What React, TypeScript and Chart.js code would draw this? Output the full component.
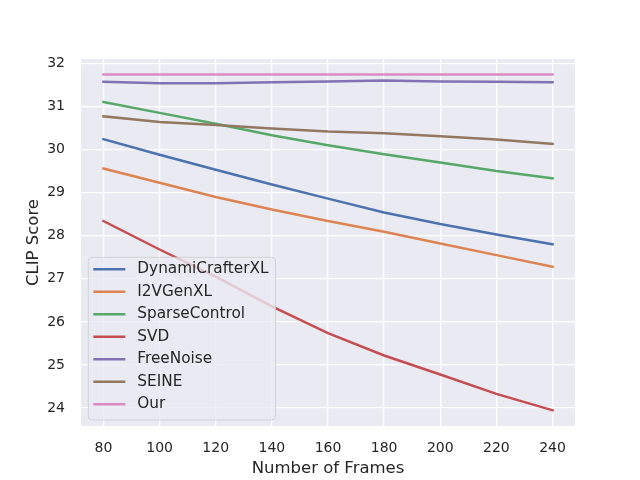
import { useEffect, useRef } from "react"
import { Chart, registerables } from "chart.js"

Chart.register(...registerables)

const frames = [80, 100, 120, 140, 160, 180, 200, 220, 240]

const dynamiCrafter = [30.24, 29.88, 29.53, 29.19, 28.86, 28.54, 28.27, 28.03, 27.8]
const i2vGen = [29.56, 29.23, 28.9, 28.61, 28.34, 28.09, 27.82, 27.55, 27.28]
const sparseControl = [31.1, 30.85, 30.6, 30.33, 30.1, 29.89, 29.7, 29.5, 29.33]
const svd = [28.34, 27.68, 27.05, 26.36, 25.74, 25.22, 24.78, 24.33, 23.95]
const freeNoise = [31.57, 31.54, 31.54, 31.56, 31.58, 31.6, 31.58, 31.57, 31.56]
const seine = [30.77, 30.64, 30.57, 30.49, 30.42, 30.38, 30.31, 30.23, 30.13]
const ours = [31.74, 31.74, 31.74, 31.74, 31.74, 31.74, 31.74, 31.74, 31.74]

const xTicks = [80, 100, 120, 140, 160, 180, 200, 220, 240]
const yTicks = [24, 25, 26, 27, 28, 29, 30, 31, 32]

const series = [
  { label: "DynamiCrafterXL", values: dynamiCrafter, color: "#4C72B0" },
  { label: "I2VGenXL", values: i2vGen, color: "#DD8452" },
  { label: "SparseControl", values: sparseControl, color: "#55A868" },
  { label: "SVD", values: svd, color: "#C44E52" },
  { label: "FreeNoise", values: freeNoise, color: "#8172B3" },
  { label: "SEINE", values: seine, color: "#937860" },
  { label: "Our", values: ours, color: "#DA8BC3" },
]

const FONT = "'DejaVu Sans', sans-serif"
const TEXT = "#262626"

// fond gris du style seaborn
const bgPlugin = {
  id: "plotBg",
  beforeDraw(chart: Chart) {
    const { ctx, chartArea } = chart
    ctx.save()
    ctx.fillStyle = "#EAEAF2"
    ctx.fillRect(chartArea.left, chartArea.top, chartArea.right - chartArea.left, chartArea.bottom - chartArea.top)
    ctx.restore()
  },
}

// légende dans la zone du graphique, en bas à gauche, avec cadre
const legendPlugin = {
  id: "boxLegend",
  afterDraw(chart: Chart) {
    const { ctx, chartArea } = chart
    const datasets = chart.data.datasets
    ctx.save()
    ctx.font = `15.3px ${FONT}`
    let maxW = 0
    datasets.forEach((d) => {
      maxW = Math.max(maxW, ctx.measureText(String(d.label)).width)
    })
    const rowH = 22.5
    const w = 5 + 32 + 12 + maxW + 7
    const h = 12 + rowH * (datasets.length - 1) + 15.7
    const x0 = chartArea.left + 7.3
    const y0 = chartArea.bottom - 6 - h
    ctx.beginPath()
    ctx.roundRect(x0, y0, w, h, 4)
    ctx.fillStyle = "rgba(234,234,242,0.8)"
    ctx.fill()
    ctx.strokeStyle = "rgba(204,204,204,0.8)"
    ctx.lineWidth = 1
    ctx.stroke()
    datasets.forEach((d, i) => {
      const cy = y0 + 12 + i * rowH
      ctx.beginPath()
      ctx.moveTo(x0 + 5, cy)
      ctx.lineTo(x0 + 37, cy)
      ctx.strokeStyle = String(d.borderColor)
      ctx.lineWidth = 2.5
      ctx.stroke()
      ctx.fillStyle = TEXT
      ctx.textBaseline = "middle"
      ctx.textAlign = "left"
      ctx.fillText(String(d.label), x0 + 49, cy)
    })
    ctx.restore()
  },
}

export default function App() {
  const chartRef = useRef<HTMLCanvasElement>(null)
  const chartInstance = useRef<Chart | null>(null)

  useEffect(() => {
    if (!chartRef.current) return
    if (chartInstance.current) {
      chartInstance.current.destroy()
    }
    const ctx = chartRef.current.getContext("2d")
    if (!ctx) return

    chartInstance.current = new Chart(ctx, {
      type: "line",
      data: {
        datasets: series.map((s, i) => ({
          label: s.label,
          data: frames.map((f, j) => ({ x: f, y: s.values[j] })),
          borderColor: s.color,
          backgroundColor: s.color,
          borderWidth: 2.5,
          borderCapStyle: "square",
          pointRadius: 0,
          tension: 0,
          order: series.length - i,
        })),
      },
      options: {
        responsive: false,
        animation: false,
        layout: { padding: { left: 0, top: 59, right: 65, bottom: 0 } },
        plugins: {
          legend: { display: false },
          tooltip: { enabled: false },
        },
        scales: {
          x: {
            type: "linear",
            min: 72,
            max: 248,
            afterBuildTicks: (scale: any) => {
              scale.ticks = xTicks.map((v) => ({ value: v }))
            },
            afterFit: (scale: any) => {
              scale.height = 54
            },
            grid: { color: "#FFFFFF", lineWidth: 1.3, drawTicks: false },
            border: { display: false },
            ticks: { color: TEXT, font: { family: FONT, size: 14 }, padding: 14, maxRotation: 0 },
            title: {
              display: true,
              text: "Number of Frames",
              color: TEXT,
              font: { family: FONT, size: 16.5 },
              padding: { top: 0, bottom: 1 },
            },
          },
          y: {
            min: 23.585,
            max: 32.1,
            afterBuildTicks: (scale: any) => {
              scale.ticks = yTicks.map((v) => ({ value: v }))
            },
            afterFit: (scale: any) => {
              scale.width = 81
            },
            grid: { color: "#FFFFFF", lineWidth: 1.3, drawTicks: false },
            border: { display: false },
            ticks: { color: TEXT, font: { family: FONT, size: 14 }, padding: 16 },
            title: {
              display: true,
              text: "CLIP Score",
              color: TEXT,
              font: { family: FONT, size: 16.5 },
              padding: { top: 23.5, bottom: 0 },
            },
          },
        },
      },
      plugins: [bgPlugin, legendPlugin],
    })

    return () => {
      if (chartInstance.current) {
        chartInstance.current.destroy()
        chartInstance.current = null
      }
    }
  }, [])

  return (
    <canvas
      ref={chartRef}
      width={640}
      height={480}
      style={{ position: "absolute", left: 0, top: 0, width: 640, height: 480 }}
    />
  )
}
